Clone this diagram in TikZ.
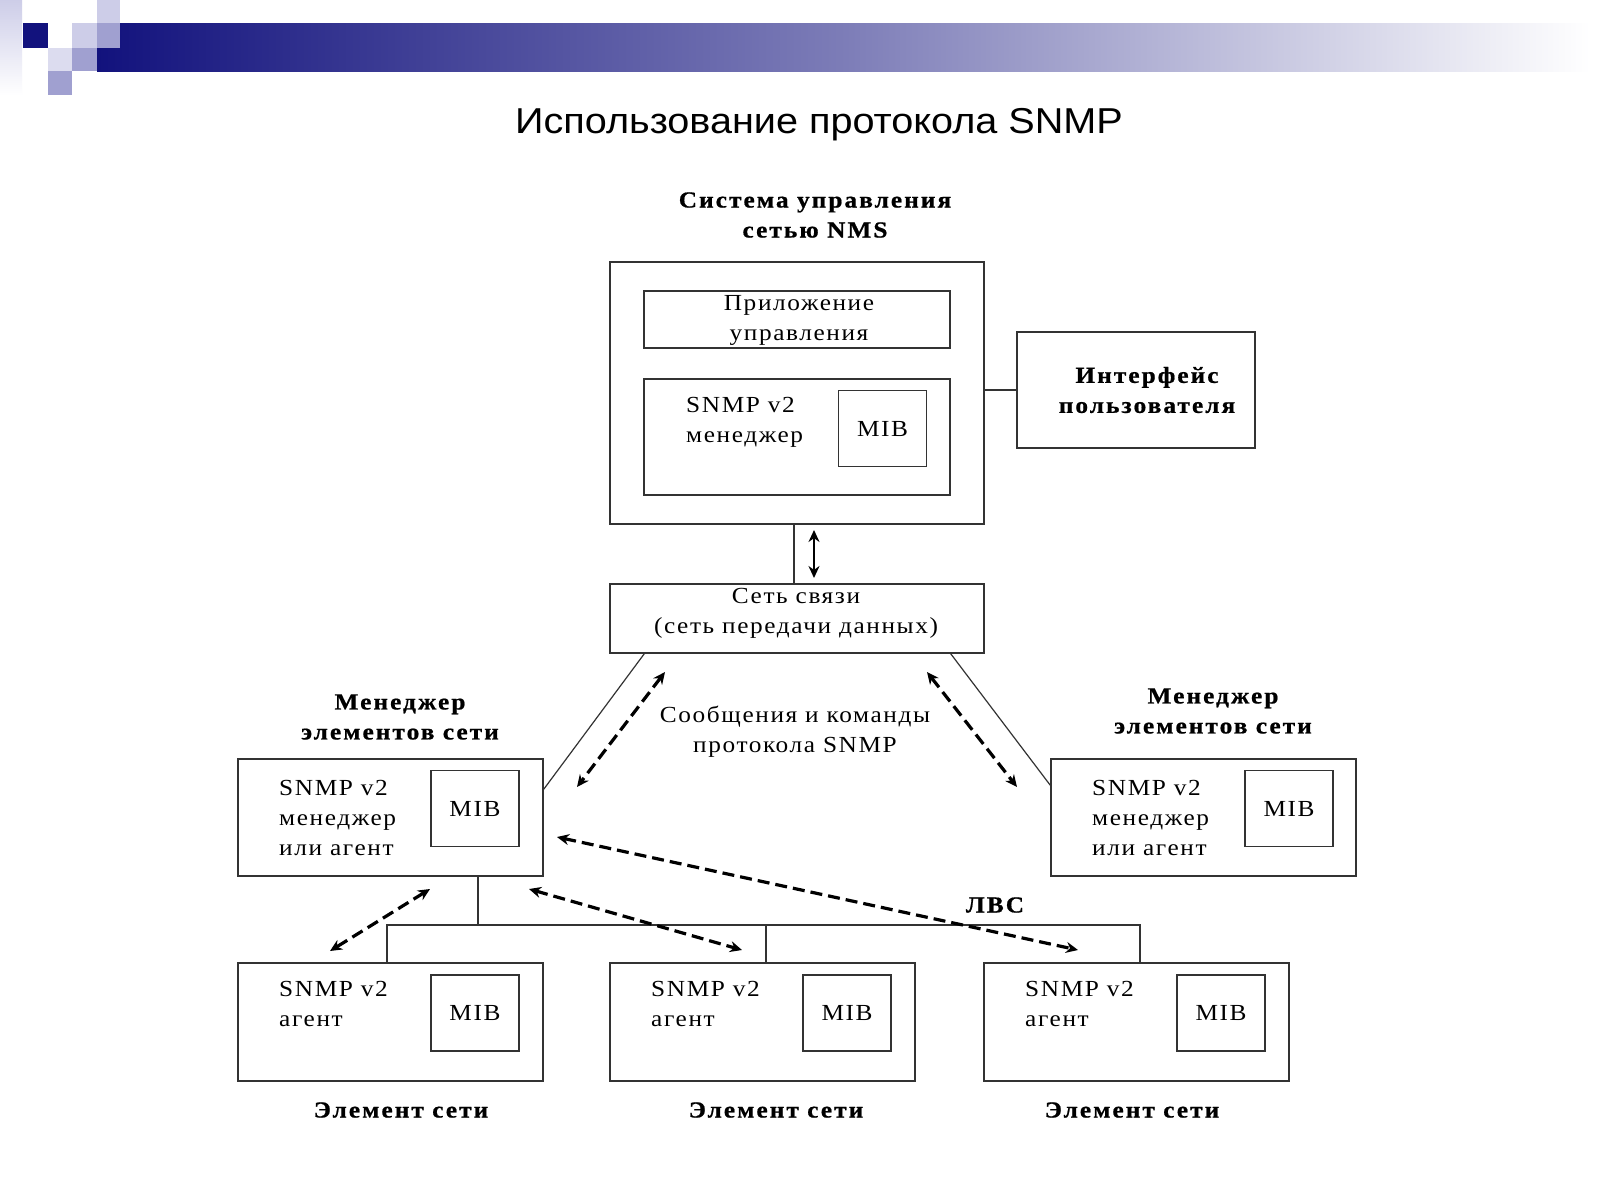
\documentclass[tikz,border=0pt]{standalone}
\usepackage{fontspec}
\setmainfont{Liberation Serif}[FakeStretch=1.1,LetterSpace=7]
\newfontfamily\titlefont{Liberation Sans}[FakeStretch=1.1]
\newfontfamily\headfont{Liberation Serif Bold}[FakeStretch=1.1,LetterSpace=9,FakeBold=0.8]
\usetikzlibrary{arrows.meta,calc,positioning}
\definecolor{navy}{RGB}{18,18,125}
\definecolor{lilac}{RGB}{205,205,232}
\definecolor{lilacmid}{RGB}{160,160,208}
\tikzset{
  every node/.style={font=\fontsize{23}{30}\selectfont},
  box/.style={draw=black!80, line width=1.3pt, inner sep=0pt, fill=white},
  mib/.style={box, minimum width=88, minimum height=76},
  txt/.style={inner sep=0pt, align=left, anchor=west},
  head/.style={inner sep=0pt, align=center, font=\headfont\fontsize{23}{30}\selectfont},
  line/.style={draw=black!80, line width=1.2pt},
  bi arrow/.style={line width=2.2pt, {Stealth[length=12pt,width=11pt]}-{Stealth[length=12pt,width=11pt]}},
  msg arrow/.style={line width=3.2pt, dash pattern=on 12pt off 6pt,
    {Stealth[length=12pt,width=11pt]}-{Stealth[length=12pt,width=11pt]}}
}

\begin{document}
\begin{tikzpicture}[x=1pt,y=-1pt,line cap=butt,line join=miter]
  \useasboundingbox[fill=white] (0,0) rectangle (1600,1200);

  % header bar
  \shade[left color=navy, right color=white, middle color=navy!55] (97,23) rectangle (1590,71);
  \shade[top color=lilac, bottom color=white] (0,0) rectangle (22,95);
  \fill[lilac] (97,0) rectangle (120,23);
  \fill[lilacmid] (97,23) rectangle (120,48);
  \fill[lilac] (72,23) rectangle (97,48);
  \fill[lilacmid] (72,48) rectangle (97,71);
  \fill[lilac!70] (48,48) rectangle (72,71);
  \fill[lilacmid] (48,71) rectangle (72,95);
  \fill[navy] (23,23) rectangle (48,48);

  \node[inner sep=0pt, anchor=base, font=\titlefont\fontsize{36}{40}\selectfont] (title) at (819,133)
    {Использование протокола SNMP};

  % NMS
  \node[head] (nmslbl) at (815,215) {Система управления\\сетью NMS};
  \node[box, minimum width=374, minimum height=262] (nms) at (797,393) {};
  \node[box, minimum width=306, minimum height=57] (app) at (797,319.5) {};
  \node[inner sep=0pt, align=center] (apptxt) at (799,320) {Приложение\\управления};
  \node[box, minimum width=306, minimum height=116] (mgr) at (797,437) {};
  \node[mib] (mib0) at (882.5,428.5) {MIB};
  \node[txt] (mgrtxt) at (686,422) {SNMP v2\\менеджер};

  \node[box, minimum width=238, minimum height=116] (ui) at (1136,390) {};
  \node[head] (uitxt) at (1147,390) {Интерфейс\\пользователя};
  \draw[line] (nms.east |- ui.west) -- (ui.west);

  % network
  \node[box, minimum width=374, minimum height=69] (net) at (797,618.5) {};
  \node[inner sep=0pt, align=center] (nettxt) at (796,613) {Сеть связи\\(сеть передачи данных)};
  \draw[line] ([xshift=-3pt]nms.south) -- ([xshift=-3pt]net.north);
  \coordinate (n1) at (814,530);
  \coordinate (n2) at (814,578);
  \draw[bi arrow] (n1) -- (n2);

  \node[inner sep=0pt, align=center] (msg) at (795,732) {Сообщения и команды\\протокола SNMP};

  % element managers
  \node[head] (llbl) at (400,717) {Менеджер\\элементов сети};
  \node[box, minimum width=305, minimum height=117] (lman) at (390.5,817.5) {};
  \node[mib] (lmib) at (475,808.5) {MIB};
  \node[txt] (ltxt) at (279,818) {SNMP v2\\менеджер\\или агент};

  \node[head] (rlbl) at (1213,711) {Менеджер\\элементов сети};
  \node[box, minimum width=305, minimum height=117] (rman) at (1203.5,817.5) {};
  \node[mib] (rmib) at (1289,808.5) {MIB};
  \node[txt] (rtxt) at (1092,818) {SNMP v2\\менеджер\\или агент};

  \draw[line] ([xshift=35pt]net.south west) -- ([yshift=-31pt]lman.north east);
  \draw[line] ([xshift=-34pt]net.south east) -- ([yshift=-27pt]rman.north west);

  % network elements
  \foreach \i/\x/\lx in {1/390.5/401, 2/762.5/776, 3/1136.5/1132} {
    \node[box, minimum width=305, minimum height=118] (e\i) at (\x,1022) {};
    \node[mib] (emib\i) at (\x+84.5,1013) {MIB};
    \node[txt] (etxt\i) at (\x-111.5,1004) {SNMP v2\\агент};
    \node[head] (elbl\i) at (\lx,1110) {Элемент сети};
  }

  % LAN
  \coordinate (bus) at (478,925);
  \draw[line] (lman.south -| bus) -- (bus);
  \draw[line] ([xshift=-3.5pt]e1.north) |- ([xshift=3.5pt]e3.north |- bus) -- ([xshift=3.5pt]e3.north);
  \draw[line] ([xshift=3.5pt]e2.north) -- ([xshift=3.5pt]e2.north |- bus);
  \node[head] (lan) at (995,905) {ЛВС};

  % SNMP messages
  \coordinate (m1a) at (665,672);  \coordinate (m1b) at (577,787);
  \coordinate (m2a) at (927,672);  \coordinate (m2b) at (1017,787);
  \coordinate (b1a) at (430,889);  \coordinate (b1b) at (330,951);
  \coordinate (b2a) at (529,889);  \coordinate (b2b) at (742,950);
  \coordinate (b3a) at (557,837);  \coordinate (b3b) at (1078,950);
  \draw[msg arrow] (m1a) -- (m1b);
  \draw[msg arrow] (m2a) -- (m2b);
  \draw[msg arrow] (b1a) -- (b1b);
  \draw[msg arrow] (b2a) -- (b2b);
  \draw[msg arrow] (b3a) -- (b3b);

\end{tikzpicture}
\end{document}
